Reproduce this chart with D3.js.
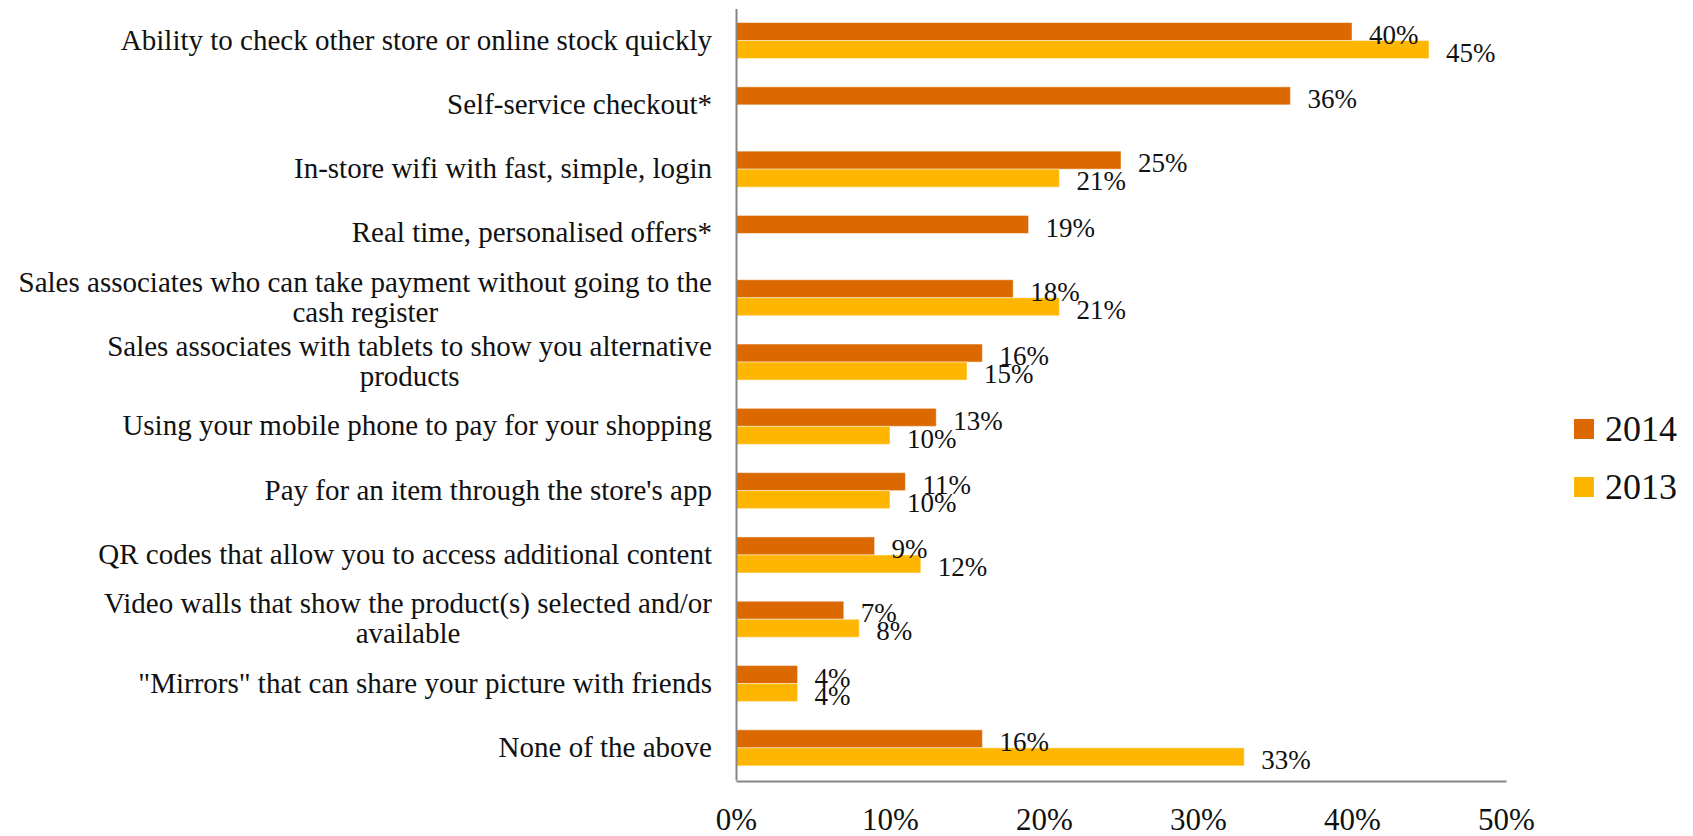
<!DOCTYPE html>
<html>
<head>
<meta charset="utf-8">
<script src="https://cdn.jsdelivr.net/npm/d3@7"></script>
<style>
  html, body { margin: 0; padding: 0; background: #fff; }
  svg { display: block; font-family: "Liberation Serif", "Times New Roman", serif; }
</style>
</head>
<body>
<svg id="chart" width="1693" height="836"></svg>
<script>
// Survey answers (line breaks mark where long labels wrap)
const categories = [
  "Ability to check other store or online stock quickly",
  "Self-service checkout*",
  "In-store wifi with fast, simple, login",
  "Real time, personalised offers*",
  "Sales associates who can take payment without going to the\ncash register",
  "Sales associates with tablets to show you alternative\nproducts",
  "Using your mobile phone to pay for your shopping",
  "Pay for an item through the store's app",
  "QR codes that allow you to access additional content",
  "Video walls that show the product(s) selected and/or\navailable",
  "\"Mirrors\" that can share your picture with friends",
  "None of the above"
];
const seriesNames = ["2014", "2013"];
const values2014 = [40, 36, 25, 19, 18, 16, 13, 11, 9, 7, 4, 16];
const values2013 = [45, null, 21, null, 21, 15, 10, 10, 12, 8, 4, 33];
const xTicks = [0, 10, 20, 30, 40, 50];
const colors = ["#DC6900", "#FFB600"];

const seriesValues = [values2014, values2013];
const rows = categories.map((c, i) => ({
  category: c,
  values: seriesNames.map((s, k) => ({ series: s, value: seriesValues[k][i], color: colors[k] }))
}));

const svg = d3.select("#chart");
const axisColor = "#868686";

const x = d3.scaleLinear().domain([0, 50]).range([736, 1506]);
const y = d3.scaleBand().domain(categories).range([8.4, 780])
  .paddingInner(0.44).paddingOuter(0.22);
const ySub = d3.scaleBand().domain(seriesNames).range([0, y.bandwidth()]);

// Bars
const groups = svg.append("g").selectAll("g")
  .data(rows).join("g")
  .attr("transform", d => `translate(0,${y(d.category)})`);

groups.selectAll("rect")
  .data(d => d.values.filter(v => v.value != null))
  .join("rect")
  .attr("x", x(0))
  .attr("y", d => ySub(d.series))
  .attr("width", d => x(d.value) - x(0))
  .attr("height", ySub.bandwidth())
  .attr("fill", d => d.color)
  .attr("stroke", "rgba(255,255,255,0.45)")
  .attr("stroke-width", 1);

// Value labels outside the bar ends
groups.selectAll("text.val")
  .data(d => d.values.filter(v => v.value != null))
  .join("text")
  .attr("class", "val")
  .attr("x", d => x(d.value) + 17)
  .attr("y", d => ySub(d.series) + ySub.bandwidth() / 2 + 3)
  .attr("dy", "0.34em")
  .attr("font-size", 27)
  .attr("fill", "#111")
  .text(d => d.value + "%");

// Bottom axis
const xAxis = svg.append("g")
  .attr("transform", "translate(0,781)")
  .call(d3.axisBottom(x).tickValues(xTicks).tickFormat(d => d + "%").tickSize(0));
xAxis.select(".domain").attr("stroke", axisColor).attr("stroke-width", 2);
xAxis.selectAll("text")
  .attr("y", 49).attr("dy", 0)
  .attr("font-size", 31)
  .attr("font-family", "Liberation Serif, serif")
  .attr("fill", "#111");

// Left axis with wrapped, centred labels
const yAxis = svg.append("g")
  .attr("transform", `translate(${x(0)},0)`)
  .call(d3.axisLeft(y).tickSize(0).tickFormat(""));
yAxis.select(".domain").attr("stroke", axisColor).attr("stroke-width", 2);

const labelRight = 712;
const lineGap = 29.7;
const labels = svg.append("g").attr("font-size", 29).attr("fill", "#111");
categories.forEach(c => {
  const lines = c.split("\n");
  const cy = y(c) + y.bandwidth() / 2;
  const t = labels.append("text");
  const spans = lines.map((ln, j) => t.append("tspan")
    .attr("y", cy + (j - (lines.length - 1) / 2) * lineGap + 9)
    .text(ln));
  if (lines.length === 1) {
    t.attr("text-anchor", "end");
    spans[0].attr("x", labelRight);
  } else {
    const w = d3.max(spans, s => s.node().getComputedTextLength());
    t.attr("text-anchor", "middle");
    spans.forEach(s => s.attr("x", labelRight - w / 2));
  }
});

// Legend
const legend = svg.append("g").selectAll("g")
  .data(seriesNames).join("g")
  .attr("transform", (d, i) => `translate(1574,${419 + i * 58})`);
legend.append("rect")
  .attr("width", 20).attr("height", 20)
  .attr("fill", (d, i) => colors[i]);
legend.append("text")
  .attr("x", 31).attr("y", 22)
  .attr("font-size", 36)
  .attr("fill", "#111")
  .text(d => d);
</script>
</body>
</html>
